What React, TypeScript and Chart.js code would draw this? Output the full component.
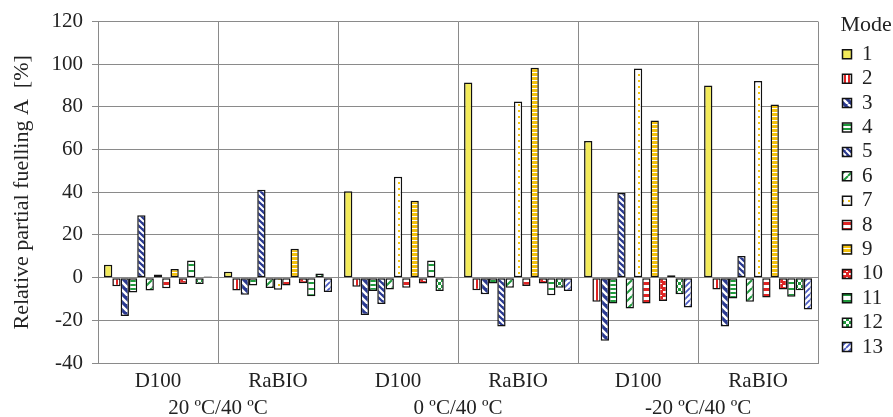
import React, { useEffect, useRef } from "react";
import { Chart, registerables } from "chart.js";

Chart.register(...registerables);

const categories = ["D100", "RaBIO", "D100", "RaBIO", "D100", "RaBIO"];
const groupLabels = ["20 ºC/40 ºC", "0 ºC/40 ºC", "-20 ºC/40 ºC"];
const modeLabels = ["1", "2", "3", "4", "5", "6", "7", "8", "9", "10", "11", "12", "13"];

const mode1 = [6, 2.8, 40.5, 91.5, 64, 90];
const mode2 = [-4, -6, -4.3, -5.9, -11.3, -5.6];
const mode3 = [-18, -8, -17.5, -7.8, -29.6, -22.9];
const mode4 = [-7, -3.7, -6.2, -2.8, -12.1, -9.8];
const mode5 = [29.3, 41.2, -12.4, -22.9, 39.7, 10.2];
const mode6 = [-6, -4.8, -5.6, -4.7, -14.4, -11.3];
const mode7 = [1.5, -5.7, 47.3, 82.5, 98, 92.2];
const mode8 = [-5, -3.7, -4.7, -3.9, -12.1, -9.3];
const mode9 = [4, 13.6, 36, 98.4, 73.6, 81.2];
const mode10 = [-3, -2.6, -2.8, -2.8, -10.9, -5.6];
const mode11 = [8, -8.7, 8, -8.2, 1.1, -9];
const mode12 = [-3, 2, -6.2, -4.7, -7.8, -5.9];
const mode13 = [0.5, -6.7, 0.4, -6.2, -14, -14.9];

const yTicksMin = -40;
const yTicksMax = 120;
const yTickStep = 20;

function tile(size: number, draw: (c: CanvasRenderingContext2D) => void): CanvasPattern | string {
  const cv = document.createElement("canvas");
  cv.width = size;
  cv.height = size;
  const c = cv.getContext("2d")!;
  draw(c);
  const p = c.createPattern(cv, "repeat");
  return p || "#fff";
}

function makePatterns(): (CanvasPattern | string)[] {
  const yellow = "#f2ea5a";
  const red = "#e02424";
  const navy = "#2a3990";
  const green = "#1f9a3c";
  const orange = "#f4c20d";
  const blue13 = "#4c5cc4";
  const diag = (c: CanvasRenderingContext2D, s: number, col: string, bg: string, w: number, back: boolean) => {
    c.fillStyle = bg;
    c.fillRect(0, 0, s, s);
    c.strokeStyle = col;
    c.lineWidth = w;
    c.beginPath();
    for (let k = -1; k <= 1; k++) {
      if (back) {
        c.moveTo(k * s, 0);
        c.lineTo(k * s + s, s);
      } else {
        c.moveTo(k * s, s);
        c.lineTo(k * s + s, 0);
      }
    }
    c.stroke();
  };
  return [
    yellow,
    tile(4, (c) => {
      c.fillStyle = "#fff";
      c.fillRect(0, 0, 4, 4);
      c.fillStyle = red;
      c.fillRect(0, 0, 2, 4);
    }),
    tile(8, (c) => diag(c, 8, "#fff", navy, 2.5, true)),
    tile(4, (c) => {
      c.fillStyle = "#fff";
      c.fillRect(0, 0, 4, 4);
      c.fillStyle = green;
      c.fillRect(0, 0, 4, 2);
    }),
    tile(6, (c) => diag(c, 6, "#fff", navy, 2, true)),
    tile(8, (c) => diag(c, 8, green, "#fff", 2, false)),
    tile(6, (c) => {
      c.fillStyle = "#fff";
      c.fillRect(0, 0, 6, 6);
      c.fillStyle = orange;
      c.fillRect(2, 2, 2, 2);
    }),
    tile(6, (c) => {
      c.fillStyle = "#fff";
      c.fillRect(0, 0, 6, 6);
      c.fillStyle = red;
      c.fillRect(0, 0, 6, 3);
    }),
    tile(4, (c) => {
      c.fillStyle = orange;
      c.fillRect(0, 0, 4, 4);
      c.fillStyle = "#fff";
      c.fillRect(0, 0, 4, 1);
    }),
    tile(6, (c) => {
      c.fillStyle = red;
      c.fillRect(0, 0, 6, 6);
      c.fillStyle = "#fff";
      c.fillRect(3, 3, 3, 2);
      c.fillRect(0, 1, 2, 1);
    }),
    tile(6, (c) => {
      c.fillStyle = "#fff";
      c.fillRect(0, 0, 6, 6);
      c.fillStyle = green;
      c.fillRect(0, 0, 6, 2);
    }),
    tile(6, (c) => {
      c.fillStyle = "#fff";
      c.fillRect(0, 0, 6, 6);
      c.fillStyle = green;
      c.fillRect(0, 0, 3, 3);
      c.fillRect(3, 3, 3, 3);
    }),
    tile(6, (c) => diag(c, 6, blue13, "#fff", 1.8, false)),
  ];
}

export default function App() {
  const ref = useRef<HTMLCanvasElement | null>(null);
  useEffect(() => {
    if (!ref.current) return;
    const pats = makePatterns();
    const series = [mode1, mode2, mode3, mode4, mode5, mode6, mode7, mode8, mode9, mode10, mode11, mode12, mode13];
    const font = "'Liberation Serif', 'Times New Roman', serif";
    const textColor = "#222";
    const gridColor = "#8a8a8a";
    const chart = new Chart(ref.current, {
      type: "bar",
      data: {
        labels: categories,
        datasets: series.map((d, i) => ({
          label: modeLabels[i],
          data: d,
          backgroundColor: pats[i] as any,
          borderColor: "#111",
          borderWidth: 1.5,
          borderSkipped: false,
          barPercentage: 1,
          categoryPercentage: 0.9,
        })),
      },
      options: {
        animation: false,
        responsive: true,
        maintainAspectRatio: false,
        layout: { padding: 0 },
        plugins: {
          tooltip: { enabled: false },
          legend: {
            position: "right",
            align: "start",
            title: {
              display: true,
              text: "Mode",
              color: textColor,
              font: { family: font, size: 22 },
              padding: { top: 14, bottom: 0 },
            },
            labels: {
              color: textColor,
              font: { family: font, size: 21 },
              boxWidth: 9,
              boxHeight: 9,
              padding: 3.4,
              generateLabels: (ch: any) =>
                ch.data.datasets.map((ds: any, i: number) => ({
                  text: ds.label,
                  fillStyle: ds.backgroundColor,
                  strokeStyle: "#111",
                  lineWidth: 1.5,
                  hidden: false,
                  datasetIndex: i,
                  fontColor: textColor,
                })),
            },
          },
        },
        scales: {
          x: {
            type: "category",
            position: "bottom",
            grid: { color: gridColor, offset: true, drawTicks: false, lineWidth: 1 },
            border: { color: gridColor, width: 1 },
            ticks: { color: textColor, font: { family: font, size: 21, lineHeight: "33px" }, padding: 2, maxRotation: 0 },
          },
          x2: {
            type: "category",
            position: "bottom",
            labels: groupLabels,
            grid: { display: false, drawTicks: false },
            border: { display: false },
            ticks: { color: textColor, font: { family: font, size: 21, lineHeight: "17px" }, padding: 0, maxRotation: 0 },
          },
          xTop: {
            type: "category",
            position: "top",
            labels: groupLabels,
            grid: { display: false, drawTicks: false },
            border: { display: false },
            ticks: { display: false },
            afterFit: (s: any) => {
              s.height = 21;
            },
          },
          y: {
            min: yTicksMin,
            max: yTicksMax,
            grid: { color: gridColor, lineWidth: 1, tickLength: 6 },
            border: { color: gridColor, width: 1 },
            ticks: { stepSize: yTickStep, color: textColor, font: { family: font, size: 21 }, padding: 9 },
            title: {
              display: true,
              text: "Relative partial fuelling A  [%]",
              color: textColor,
              font: { family: font, size: 22 },
              padding: { top: 8.8, bottom: 7.3 },
            },
          },
          yRight: {
            type: "linear",
            position: "right",
            min: yTicksMin,
            max: yTicksMax,
            grid: { display: false, drawTicks: false },
            border: { display: false },
            ticks: { display: false },
            afterFit: (s: any) => {
              s.width = 21;
            },
          },
        },
      },
    });
    return () => chart.destroy();
  }, []);
  return (
    <div style={{ position: "absolute", left: 0, top: 0, width: 893, height: 417 }}>
      <canvas ref={ref} />
    </div>
  );
}
